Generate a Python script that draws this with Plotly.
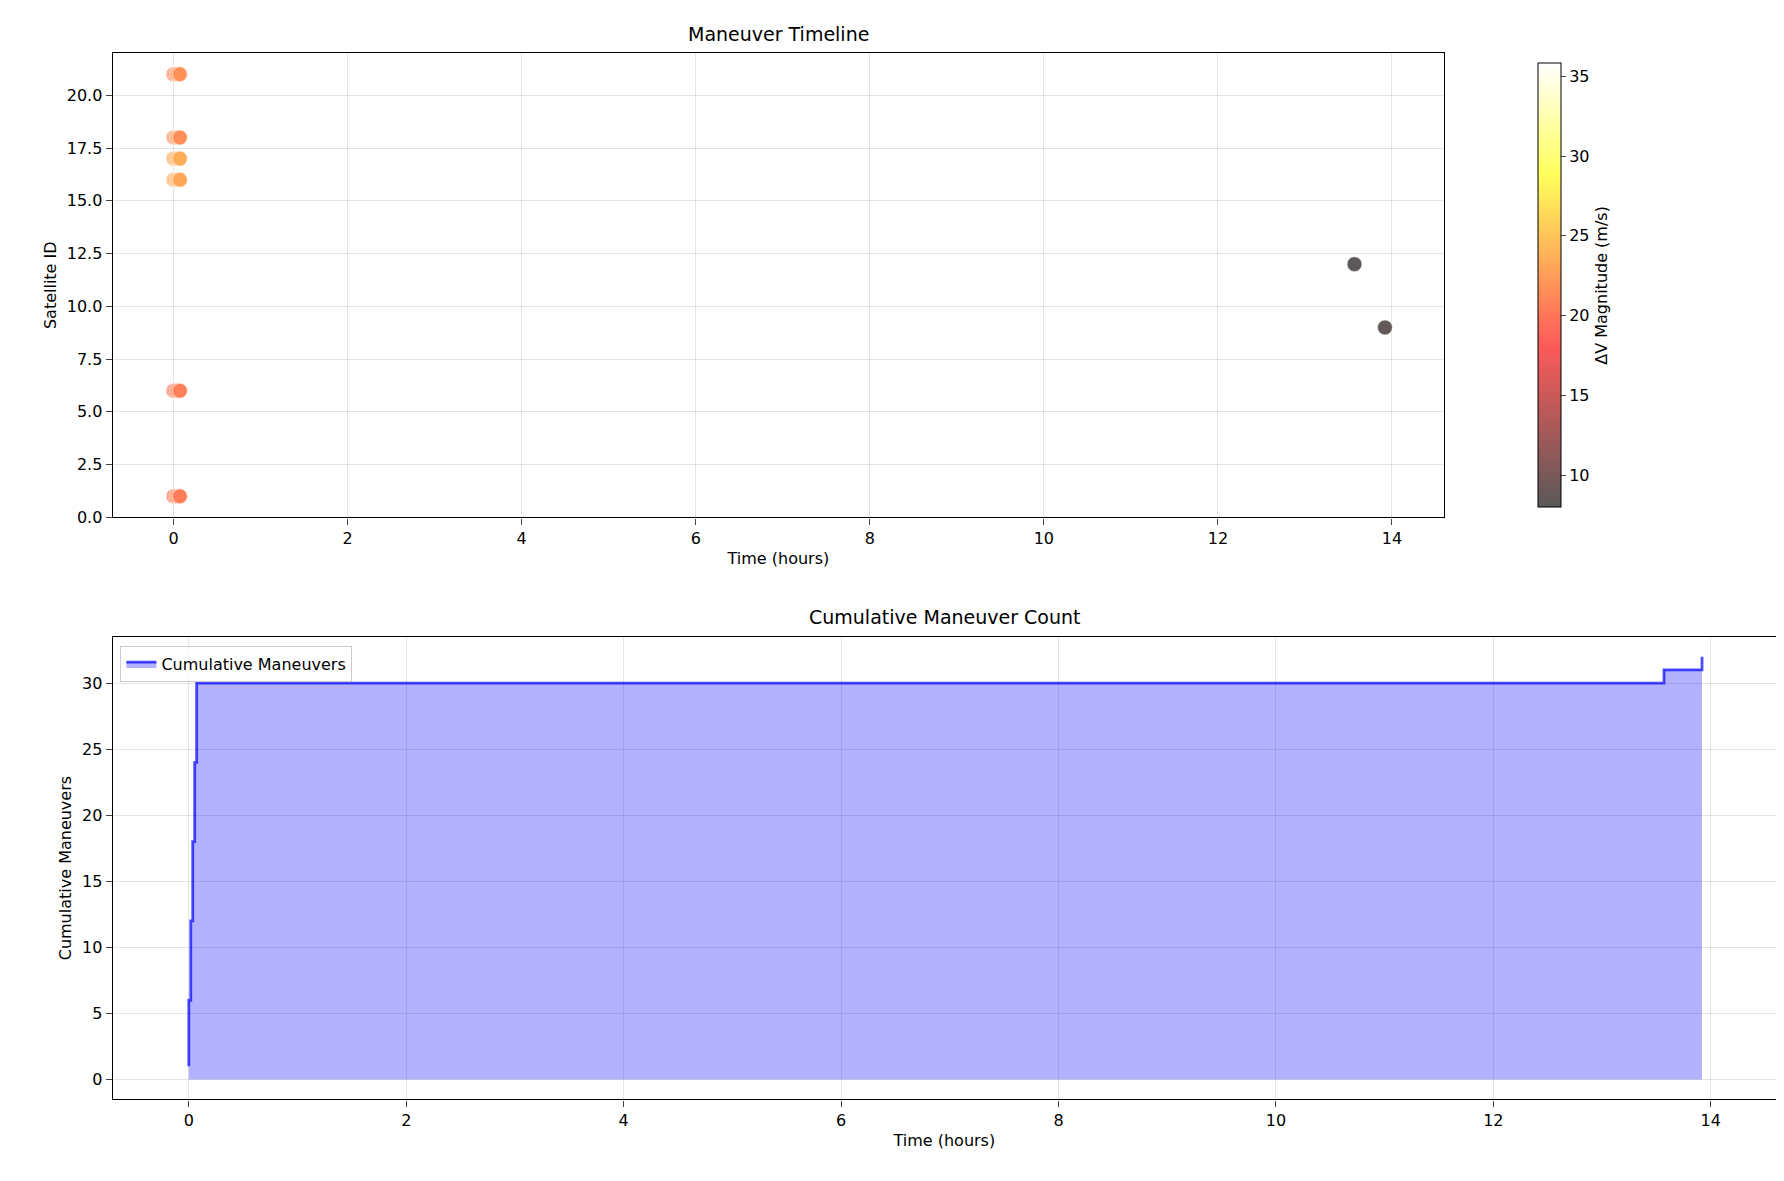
import plotly.graph_objects as go
import numpy as np

# Maneuver data
sat_ids = [1, 6, 16, 17, 18, 21] * 5 + [12, 9]
times = ([0.0] * 6 + [0.018] * 6 + [0.036] * 6 + [0.054] * 6 + [0.072] * 6 + [13.57, 13.92])
delta_v = ([19.5, 19.8, 23.5, 23.0, 21.5, 21.0,
            20.5, 20.0, 23.0, 23.5, 22.0, 21.5,
            20.0, 20.5, 23.8, 23.2, 21.8, 22.0,
            21.0, 20.2, 23.3, 23.6, 22.2, 21.2,
            20.4, 20.6, 23.1, 23.4, 21.6, 21.8,
            8.3, 8.6])
cmin, cmax = 8.0, 35.8
cb_ticks = [10, 15, 20, 25, 30, 35]

def hot(x, a=0.65):
    r = min(max(x / 0.365, 0), 1)
    g = min(max((x - 0.365) / 0.381, 0), 1)
    b = min(max((x - 0.746) / 0.254, 0), 1)
    c = [int(round(v * 255 * a + 255 * (1 - a))) for v in (r, g, b)]
    return f"rgb({c[0]},{c[1]},{c[2]})"

scale = [[i / 20, hot(i / 20)] for i in range(21)]

order = np.argsort(times, kind="stable")
t_sorted = [times[i] for i in order]
cum = list(range(1, len(t_sorted) + 1))

fig = go.Figure()
fig.add_trace(go.Scatter(
    x=times, y=sat_ids, mode="markers", xaxis="x", yaxis="y", showlegend=False,
    marker=dict(size=15, color=delta_v, colorscale=scale, cmin=cmin, cmax=cmax,
                line=dict(color="rgba(255,255,255,0.8)", width=0.8),
                colorbar=dict(x=0.852, xanchor="left", y=0.565, yanchor="bottom", len=0.3965,
                              lenmode="fraction", thickness=23, outlinewidth=1, outlinecolor="black",
                              tickvals=cb_ticks, ticks="outside", ticklen=5,
                              tickfont=dict(size=16, color="black"),
                              title=dict(text="ΔV Magnitude (m/s)", side="right",
                                         font=dict(size=16, color="black"))))))
fig.add_trace(go.Scatter(
    x=t_sorted, y=cum, mode="lines", line_shape="hv", xaxis="x2", yaxis="y2",
    name="Cumulative Maneuvers", line=dict(color="rgba(0,0,255,0.7)", width=2.8),
    fill="tozeroy", fillcolor="rgba(0,0,255,0.3)"))

ax = dict(showline=True, linecolor="black", linewidth=1.3, mirror=True, ticks="outside",
          ticklen=6, tickfont=dict(size=16, color="black"), showgrid=True,
          gridcolor="rgba(0,0,0,0.1)", zeroline=False)
tf = dict(size=16, color="black")
fig.update_layout(
    width=1784, height=1181, margin=dict(l=0, r=0, t=0, b=0), plot_bgcolor="white",
    paper_bgcolor="white", font=dict(family="DejaVu Sans", color="black"),
    xaxis=dict(ax, domain=[0.0587, 0.805], range=[-0.7, 14.6], dtick=2,
               title=dict(text="Time (hours)", font=tf, standoff=6)),
    yaxis=dict(ax, domain=[0.565, 0.9615], range=[0, 22], dtick=2.5, tickformat=".1f",
               title=dict(text="Satellite ID", font=tf, standoff=6)),
    xaxis2=dict(ax, domain=[0.0587, 0.991], range=[-0.7, 14.6], dtick=2, anchor="y2",
                title=dict(text="Time (hours)", font=tf, standoff=6)),
    yaxis2=dict(ax, domain=[0.068, 0.463], range=[-1.5, 33.5], dtick=5, anchor="x2",
                title=dict(text="Cumulative Maneuvers", font=tf, standoff=6)),
    legend=dict(x=0.063, y=0.455, xanchor="left", yanchor="top", bordercolor="#cccccc",
                borderwidth=1, bgcolor="rgba(255,255,255,0.8)", font=dict(size=16)),
    annotations=[
        dict(text="Maneuver Timeline", x=0.432, y=0.967, xref="paper", yref="paper",
             xanchor="center", yanchor="bottom", showarrow=False, font=dict(size=19)),
        dict(text="Cumulative Maneuver Count", x=0.525, y=0.469, xref="paper", yref="paper",
             xanchor="center", yanchor="bottom", showarrow=False, font=dict(size=19)),
    ])
fig.write_html("out.html")
